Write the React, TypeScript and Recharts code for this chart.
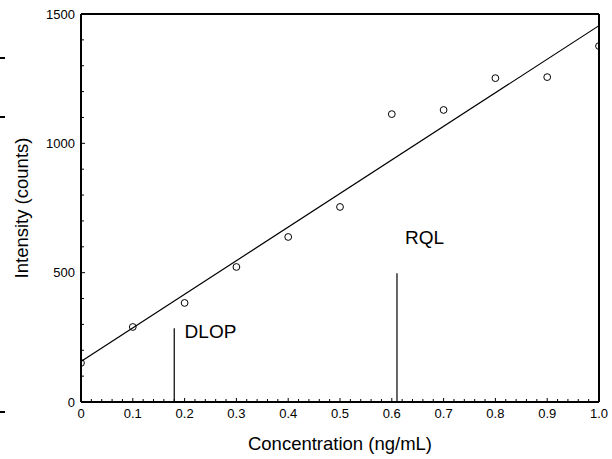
import {
  ComposedChart,
  Line,
  Scatter,
  XAxis,
  YAxis,
  ReferenceLine,
  ReferenceDot,
  Label,
} from 'recharts'

// calibration points
const concentration = [0, 0.1, 0.2, 0.3, 0.4, 0.5, 0.6, 0.7, 0.8, 0.9, 1.0]
const intensity = [151, 290, 383, 522, 638, 754, 1113, 1129, 1252, 1256, 1376]

// fitted line end points
const fitConc = [0, 1]
const fitIntensity = [157, 1455]

// marker lines
const dlopConc = 0.18
const dlopTop = 285
const rqlConc = 0.61
const rqlTop = 498

const xTicks = [
  0, 0.02, 0.04, 0.06, 0.08, 0.1, 0.12, 0.14, 0.16, 0.18, 0.2, 0.22, 0.24, 0.26, 0.28, 0.3, 0.32,
  0.34, 0.36, 0.38, 0.4, 0.42, 0.44, 0.46, 0.48, 0.5, 0.52, 0.54, 0.56, 0.58, 0.6, 0.62, 0.64,
  0.66, 0.68, 0.7, 0.72, 0.74, 0.76, 0.78, 0.8, 0.82, 0.84, 0.86, 0.88, 0.9, 0.92, 0.94, 0.96,
  0.98, 1.0,
]
const xMajor = [0, 0.1, 0.2, 0.3, 0.4, 0.5, 0.6, 0.7, 0.8, 0.9, 1.0]
const xLabels = ['0', '0.1', '0.2', '0.3', '0.4', '0.5', '0.6', '0.7', '0.8', '0.9', '1.0']

const yTicks = [0, 100, 200, 300, 400, 500, 600, 700, 800, 900, 1000, 1100, 1200, 1300, 1400, 1500]
const yMajor = [0, 500, 1000, 1500]
const yLabels = ['0', '500', '1000', '1500']

const points = concentration.map((c, i) => ({ x: c, y: intensity[i] }))
const fit = fitConc.map((c, i) => ({ x: c, y: fitIntensity[i] }))

const FONT = '"Liberation Sans", Arial, sans-serif'

const majorIndex = (list: number[], v: number) => list.findIndex((m) => Math.abs(m - v) < 1e-6)

function BottomTick(props: any) {
  const { x, y, payload } = props
  const i = majorIndex(xMajor, payload.value)
  return (
    <g>
      <line x1={x} y1={y} x2={x} y2={y - (i >= 0 ? 4 : 3)} stroke="#000" />
      {i >= 0 && (
        <text x={x} y={y + 16} textAnchor="middle" fontSize={13} fontFamily={FONT} fill="#000">
          {xLabels[i]}
        </text>
      )}
    </g>
  )
}

function TopTick(props: any) {
  const { x, y, payload } = props
  const i = majorIndex(xMajor, payload.value)
  return <line x1={x} y1={y} x2={x} y2={y + (i >= 0 ? 4 : 3)} stroke="#000" />
}

function LeftTick(props: any) {
  const { x, y, payload } = props
  const i = majorIndex(yMajor, payload.value)
  return (
    <g>
      <line x1={x} y1={y} x2={x + (i >= 0 ? 4 : 3)} y2={y} stroke="#000" />
      {i >= 0 && (
        <text x={x - 6} y={y + 4.5} textAnchor="end" fontSize={13} fontFamily={FONT} fill="#000">
          {yLabels[i]}
        </text>
      )}
    </g>
  )
}

function RightTick(props: any) {
  const { x, y, payload } = props
  const i = majorIndex(yMajor, payload.value)
  return <line x1={x} y1={y} x2={x - (i >= 0 ? 4 : 3)} y2={y} stroke="#000" />
}

const marker = (text: string) => (p: any) => (
  <text x={p.cx} y={p.cy} fontSize={19} fontFamily={FONT} fill="#000">
    {text}
  </text>
)

const axisLine = { stroke: '#000', strokeWidth: 2 }

export default function App() {
  return (
    <div style={{ position: 'absolute', left: 0, top: 0, width: 612, height: 459, background: '#fff' }}>
      {/* stray dashes at the left edge */}
      <div style={{ position: 'absolute', left: 0, top: 57, width: 5, height: 2, background: '#000' }} />
      <div style={{ position: 'absolute', left: 0, top: 116, width: 5, height: 2, background: '#000' }} />
      <div style={{ position: 'absolute', left: 0, top: 411, width: 5, height: 2, background: '#000' }} />
      <ComposedChart width={612} height={459} margin={{ top: 13, right: 12, bottom: 0, left: 0 }}>
        <XAxis
          dataKey="x"
          type="number"
          domain={[0, 1]}
          ticks={xTicks}
          interval={0}
          allowDataOverflow
          height={57}
          tickSize={0}
          tickMargin={0}
          tickLine={false}
          axisLine={axisLine}
          tick={<BottomTick />}
        >
          <Label
            content={() => (
              <text x={340} y={450} textAnchor="middle" fontSize={18.5} fontFamily={FONT} fill="#000">
                Concentration (ng/mL)
              </text>
            )}
          />
        </XAxis>
        <XAxis
          xAxisId="top"
          orientation="top"
          dataKey="x"
          type="number"
          domain={[0, 1]}
          ticks={xTicks}
          interval={0}
          height={1}
          tickSize={0}
          tickMargin={0}
          tickLine={false}
          axisLine={axisLine}
          tick={<TopTick />}
        />
        <YAxis
          type="number"
          domain={[0, 1500]}
          ticks={yTicks}
          interval={0}
          allowDataOverflow
          width={81}
          tickSize={0}
          tickMargin={0}
          tickLine={false}
          axisLine={axisLine}
          tick={<LeftTick />}
        >
          <Label
            content={() => (
              <text
                x={28}
                y={208}
                transform="rotate(-90 28 208)"
                textAnchor="middle"
                fontSize={18.5}
                fontFamily={FONT}
                fill="#000"
              >
                Intensity (counts)
              </text>
            )}
          />
        </YAxis>
        <YAxis
          yAxisId="right"
          orientation="right"
          type="number"
          domain={[0, 1500]}
          ticks={yTicks}
          interval={0}
          width={1}
          tickSize={0}
          tickMargin={0}
          tickLine={false}
          axisLine={axisLine}
          tick={<RightTick />}
        />
        <Line
          data={fit}
          dataKey="y"
          type="linear"
          stroke="#000"
          strokeWidth={1.2}
          dot={false}
          activeDot={false}
          isAnimationActive={false}
        />
        <Scatter
          data={points}
          dataKey="y"
          isAnimationActive={false}
          shape={(p: any) => <circle cx={p.cx} cy={p.cy} r={3.4} fill="none" stroke="#000" strokeWidth={1} />}
        />
        <ReferenceLine
          segment={[
            { x: dlopConc, y: 0 },
            { x: dlopConc, y: dlopTop },
          ]}
          stroke="#000"
          strokeWidth={1.2}
        />
        <ReferenceLine
          segment={[
            { x: rqlConc, y: 0 },
            { x: rqlConc, y: rqlTop },
          ]}
          stroke="#000"
          strokeWidth={1.2}
        />
        <ReferenceDot x={0.2} y={248} r={0} shape={marker('DLOP')} />
        <ReferenceDot x={0.6255} y={611} r={0} shape={marker('RQL')} />
      </ComposedChart>
    </div>
  )
}
